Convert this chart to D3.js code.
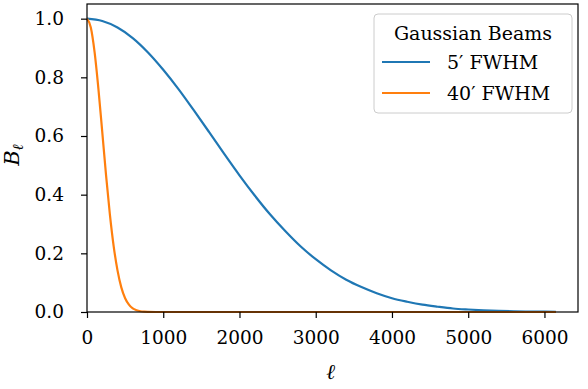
<!DOCTYPE html>
<html>
<head>
<style>
  body { margin: 0; background: #fff; }
  svg text { font-family: "DejaVu Serif", serif; fill: #000; }
</style>
</head>
<body>
<svg id="svg" width="588" height="389"></svg>
<script src="https://cdn.jsdelivr.net/npm/d3@7"></script>
<script>
// values
const ell5 = [0, 200, 400, 600, 800, 1000, 1200, 1400, 1600, 1800, 2000, 2200, 2400, 2600, 2800,
  3000, 3200, 3400, 3600, 3800, 4000, 4200, 4400, 4600, 4800, 5000, 5200, 5400, 5600, 5800, 6000, 6150]
const beam5 = [1.0, 0.992, 0.970, 0.934, 0.885, 0.826, 0.760, 0.688, 0.614, 0.539, 0.466, 0.397, 0.333, 0.276, 0.224,
  0.180, 0.142, 0.110, 0.085, 0.064, 0.047, 0.035, 0.025, 0.018, 0.012, 0.0085, 0.0058, 0.0038, 0.0025, 0.0016, 0.0010, 0.0007]

const ell40 = [0, 50, 100, 150, 200, 250, 300, 350, 400, 450, 500, 550, 600, 650, 700, 750, 800, 900, 1500, 3000, 4500, 6150]
const beam40 = [1.0, 0.970, 0.885, 0.760, 0.614, 0.466, 0.333, 0.224, 0.142, 0.084, 0.047, 0.025, 0.012, 0.006, 0.0025, 0.001, 0.0004, 0, 0, 0, 0, 0]

const seriesNames = ["5\u2032 FWHM", "40\u2032 FWHM"]
const seriesColors = ["#1f77b4", "#ff7f0e"]
const xTicks = [0, 1000, 2000, 3000, 4000, 5000, 6000]
const yTicks = [0.0, 0.2, 0.4, 0.6, 0.8, 1.0]

const margin = { top: 4, right: 10, bottom: 77, left: 87 }
const width = 588 - margin.left - margin.right
const height = 389 - margin.top - margin.bottom

const svg = d3.select("#svg")
const g = svg.append("g").attr("transform", `translate(${margin.left},${margin.top})`)

const x = d3.scaleLinear().domain([0, 6440]).range([0, width])
const y = d3.scaleLinear().domain([0, 1.05]).range([height, 0])

const line = d3.line()
  .x(d => x(d[0]))
  .y(d => y(d[1]))
  .curve(d3.curveMonotoneX)

const series = [
  d3.zip(ell5, beam5),
  d3.zip(ell40, beam40)
]

g.selectAll(".curve")
  .data(series)
  .enter().append("path")
  .attr("class", "curve")
  .attr("d", line)
  .attr("fill", "none")
  .attr("stroke", (d, i) => seriesColors[i])
  .attr("stroke-width", 2.2)

const xAxis = g.append("g")
  .attr("transform", `translate(0,${height})`)
  .call(d3.axisBottom(x).tickValues(xTicks).tickFormat(d3.format("d")).tickSizeOuter(0).tickSize(6).tickPadding(20))
const yAxis = g.append("g")
  .call(d3.axisLeft(y).tickValues(yTicks).tickFormat(d3.format(".1f")).tickSizeOuter(0).tickSize(6).tickPadding(17))

for (const ax of [xAxis, yAxis]) {
  ax.attr("font-family", "DejaVu Serif").attr("font-size", null)
  ax.select(".domain").remove()
  ax.selectAll("line").attr("stroke", "#000").attr("stroke-width", 1.2)
  ax.selectAll("text").style("font-size", "18.5px").style("font-family", "'DejaVu Serif', serif")
}
xAxis.selectAll("text").attr("dy", "0.3em")

// frame
g.append("rect")
  .attr("width", width).attr("height", height)
  .attr("fill", "none").attr("stroke", "#000").attr("stroke-width", 1.2)

// axis labels
svg.append("text")
  .attr("x", margin.left + width / 2 - 2).attr("y", 379)
  .attr("text-anchor", "middle")
  .style("font-size", "21px").style("font-style", "italic")
  .text("\u2113")

const yl = svg.append("text")
  .attr("transform", `translate(19,${margin.top + height / 2 - 3}) rotate(-90)`)
  .attr("text-anchor", "middle")
  .style("font-size", "21px").style("font-style", "italic")
yl.append("tspan").text("B")
yl.append("tspan").attr("dy", 4).style("font-size", "15px").text("\u2113")

// legend
const legend = svg.append("g").attr("transform", "translate(374,14)")
legend.append("rect")
  .attr("width", 198).attr("height", 99)
  .attr("rx", 4)
  .attr("fill", "#fff").attr("fill-opacity", 0.8)
  .attr("stroke", "#ccc").attr("stroke-width", 1)
legend.append("text")
  .attr("x", 99).attr("y", 26)
  .attr("text-anchor", "middle")
  .style("font-size", "19px")
  .text("Gaussian Beams")

legend.selectAll(".entry-line")
  .data(seriesNames)
  .enter().append("line")
  .attr("x1", 8).attr("x2", 56)
  .attr("y1", (d, i) => 48 + i * 31).attr("y2", (d, i) => 48 + i * 31)
  .attr("stroke", (d, i) => seriesColors[i])
  .attr("stroke-width", 2.2)

legend.selectAll(".entry-text")
  .data(seriesNames)
  .enter().append("text")
  .attr("x", 73)
  .attr("y", (d, i) => 55 + i * 31)
  .style("font-size", "19px")
  .text(d => d)
</script>
</body>
</html>
